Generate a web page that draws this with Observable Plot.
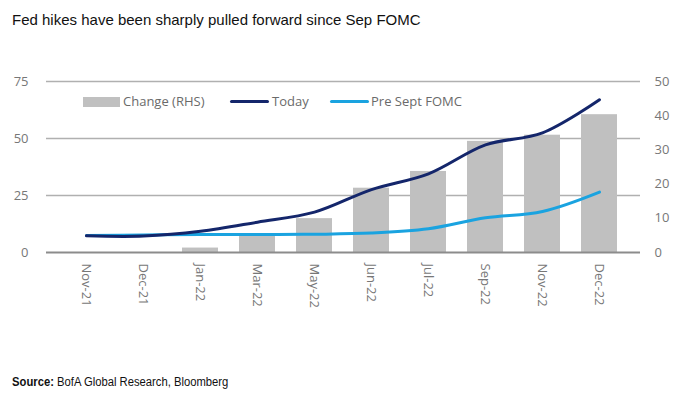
<!DOCTYPE html>
<html><head><meta charset="utf-8">
<script src="https://cdn.jsdelivr.net/npm/d3@7"></script>
<script src="https://cdn.jsdelivr.net/npm/@observablehq/plot@0.6"></script>
<style>
body{margin:0;background:#fff;}
#wrap{position:relative;width:700px;height:397px;overflow:hidden;font-family:"Open Sans",sans-serif;}
#title{position:absolute;left:12px;top:11px;font:15px "Liberation Sans",Arial,sans-serif;color:#111;}
#chart{position:absolute;left:0;top:60px;}
#legend{position:absolute;top:92px;left:0;width:700px;height:20px;font:13px "Open Sans",sans-serif;color:#6a6a6a;}
#legend span{position:absolute;top:0;white-space:nowrap;}
#legend i{position:absolute;display:block;}
#source{position:absolute;left:12px;top:375px;font:12.5px "Liberation Sans Narrow","Liberation Sans",Arial,sans-serif;color:#111;transform:scaleX(0.9);transform-origin:left top;white-space:nowrap;}
</style></head>
<body>
<div id="wrap">
<div id="title">Fed hikes have been sharply pulled forward since Sep FOMC</div>
<div id="chart"></div>
<div id="legend">
  <i style="left:83px;top:5px;width:37px;height:10px;background:#c0c0c0"></i><span style="left:123px">Change (RHS)</span>
  <i style="left:230px;top:8px;width:39px;height:3px;background:#14266b;border-radius:2px"></i><span style="left:272px">Today</span>
  <i style="left:330px;top:8px;width:39px;height:3px;background:#1aa3e0;border-radius:2px"></i><span style="left:371px">Pre Sept FOMC</span>
</div>
<div id="source"><b>Source:</b> BofA Global Research, Bloomberg</div>
</div>
<script>
const categories = ["Nov-21","Dec-21","Jan-22","Mar-22","May-22","Jun-22","Jul-22","Sep-22","Nov-22","Dec-22"];
const today = [7.3, 7.2, 9.3, 13.3, 17.7, 27.6, 34.5, 47.2, 52.5, 67];
const preSept = [7.5, 7.7, 7.9, 7.9, 8.0, 8.5, 10.4, 15.2, 18, 26.5];
const change = [0, 0, 1.3, 5, 9.9, 18.8, 23.7, 32.5, 34.3, 40.3];
const leftTicks = [0, 25, 50, 75];
const rightTicks = [0, 10, 20, 30, 40, 50];
const ratio = 75 / 50;

const rows = categories.map((c, i) => ({cat: c, today: today[i], pre: preSept[i], change: change[i]}));

const chart = Plot.plot({
  width: 700,
  height: 280,
  marginTop: 21,
  marginBottom: 88,
  marginLeft: 46,
  marginRight: 60,
  style: {fontFamily: "Open Sans, sans-serif", fontSize: "13px", color: "#777"},
  x: {domain: categories, padding: 0.36, label: null, axis: null},
  y: {domain: [0, 75], label: null},
  marks: [
    Plot.gridY(leftTicks.slice(1), {stroke: "#b0b0b0", strokeOpacity: 1, strokeWidth: 1.5}),
    Plot.barY(rows, {x: "cat", y: d => d.change * ratio, fill: "#c0c0c0"}),
    Plot.ruleY([0], {stroke: "#8c8c8c", strokeWidth: 2}),
    Plot.line(rows, {x: "cat", y: "pre", stroke: "#1aa3e0", strokeWidth: 3, curve: "catmull-rom"}),
    Plot.line(rows, {x: "cat", y: "today", stroke: "#14266b", strokeWidth: 3, curve: "catmull-rom"}),
    Plot.axisY(leftTicks, {anchor: "left", tickSize: 0, tickPadding: 18, label: null, fill: "#777"}),
    Plot.axisY(rightTicks.map(t => t * ratio), {anchor: "right", tickSize: 0, tickPadding: 14, label: null, tickFormat: d => d3.format("d")(Math.round(d / ratio)), fill: "#777"}),
    Plot.text(categories, {x: d => d, frameAnchor: "bottom", dy: 11, rotate: 90, textAnchor: "start", lineAnchor: "middle", fill: "#777", fontSize: 13})
  ]
});
document.getElementById("chart").appendChild(chart);
</script>
</body></html>
